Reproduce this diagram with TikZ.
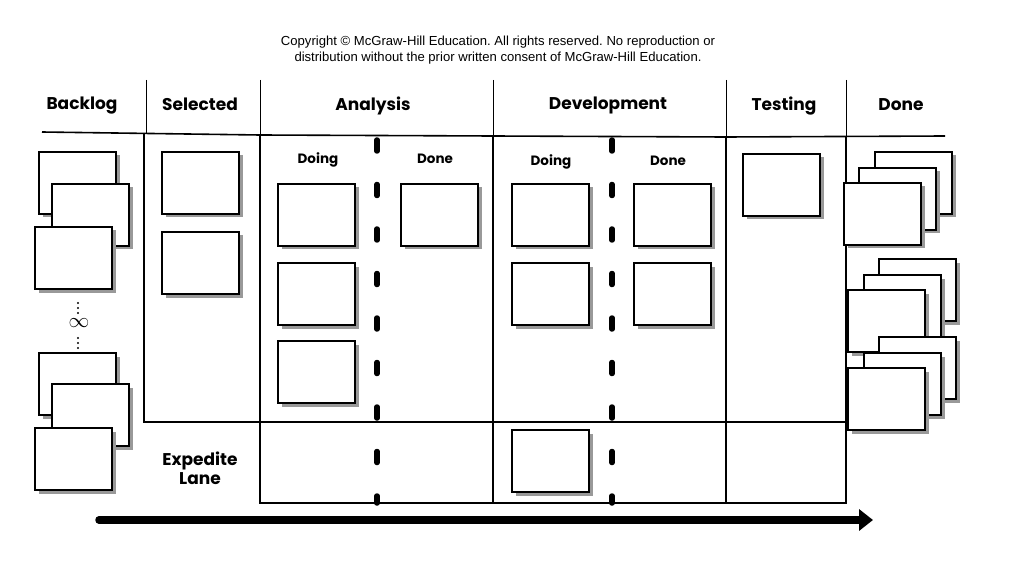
\documentclass[tikz,border=0pt]{standalone}
\usepackage{fontspec}
\setmainfont{Liberation Sans}
\newfontfamily\headfont{Poppins}
\usetikzlibrary{shadows,arrows.meta}
\begin{document}
\frenchspacing
\begin{tikzpicture}[x=1pt,y=-1pt,
  card/.style={draw=black, line width=1.3pt, fill=white, minimum width=77pt, minimum height=62pt,
    anchor=north west, inner sep=0pt, outer sep=0pt,
    drop shadow={shadow xshift=3.5pt, shadow yshift=-3.5pt, fill=black!40, opacity=1}},
  head/.style={font=\headfont\bfseries\fontsize{17}{19}\selectfont, inner sep=0pt, anchor=base},
  sub/.style={font=\headfont\bfseries\fontsize{13.5}{15}\selectfont, inner sep=0pt, anchor=base},
  gridline/.style={line width=1.6pt},
  thinline/.style={line width=0.8pt},
  lane/.style={line width=5.5pt, line cap=round, dash pattern=on 11pt off 33.5pt},
]
\useasboundingbox (0,0) rectangle (1012,572);

% copyright
\node[font=\fontsize{13.1}{16}\selectfont, align=center, inner sep=0pt] (copy) at (498,50)
  {Copyright \textcopyright\ McGraw-Hill Education. All rights reserved. No reproduction or\\
   distribution without the prior written consent of McGraw-Hill Education.};

% headers
\node[head] (hback) at (82,110) {Backlog};
\node[head] (hsel) at (200,111) {Selected};
\node[head] (hana) at (373,111) {Analysis};
\node[head] (hdev) at (608,110) {Development};
\node[head] (htest) at (784,111) {Testing};
\node[head] (hdone) at (901,111) {Done};

\node[sub] (adoing) at (318,164) {Doing};
\node[sub] (adone) at (435,164) {Done};
\node[sub] (ddoing) at (551,166) {Doing};
\node[sub] (ddone) at (668,166) {Done};

\node[head] (exp1) at (200,465) {Expedite};
\node[head] (exp2) at (200,484) {Lane};

% header vertical lines (thin)
\draw[thinline] (146,80) -- (146,133);
\draw[thinline] (260,80) -- (260,135);
\draw[thinline] (493,80) -- (493,136);
\draw[thinline] (726,80) -- (726,136);
\draw[thinline] (846,80) -- (846,136);

% header horizontal line
\draw[gridline] (42,132) -- (260,135) -- (726,137) -- (945,136);

% board lines
\draw[gridline] (144,133) -- (144,422) -- (846,422);
\draw[gridline] (260,135) -- (260,503) -- (846,503) -- (846,136);
\draw[gridline] (493,136) -- (493,503);
\draw[gridline] (726,136) -- (726,503);

% lane dividers
\draw[lane] (377,140) -- (377,503);
\draw[lane] (612,140) -- (612,503);

% backlog cards
\node[card] (b1) at (39,152) {};
\node[card] (b2) at (52,184) {};
\node[card] (b3) at (35,227) {};
\node[card] (b4) at (39,353) {};
\node[card] (b5) at (52,384) {};
\node[card] (b6) at (35,428) {};

% infinity
\foreach \yy in {303,308,313,338,343,348} \fill (78,\yy) circle (1.1pt);
\node[inner sep=0pt, font=\fontsize{20}{20}\selectfont] (inf) at (79,323) {$\infty$};

% selected
\node[card] (s1) at (162,152) {};
\node[card] (s2) at (162,232) {};

% analysis
\node[card] (ad1) at (278,184) {};
\node[card] (ad2) at (278,263) {};
\node[card] (ad3) at (278,341) {};
\node[card] (an1) at (401,184) {};

% development
\node[card] (dd1) at (512,184) {};
\node[card] (dd2) at (512,263) {};
\node[card] (dn1) at (634,184) {};
\node[card] (dn2) at (634,263) {};
\node[card] (ex1) at (512,430) {};

% testing
\node[card] (t1) at (743,154) {};

% done stacks
\node[card] (d1) at (875,152) {};
\node[card] (d2) at (859,168) {};
\node[card] (d3) at (844,183) {};
\node[card] (d4) at (879,259) {};
\node[card] (d5) at (864,275) {};
\node[card] (d6) at (848,290) {};
\node[card] (d7) at (879,337) {};
\node[card] (d8) at (864,353) {};
\node[card] (d9) at (848,368) {};

% flow arrow
\coordinate (as) at (99,520);
\coordinate (ae) at (873,520);
\draw[line width=7.5pt, line cap=round, -{Triangle[length=14pt,width=21pt]}] (as) -- (ae);
\end{tikzpicture}
\end{document}
